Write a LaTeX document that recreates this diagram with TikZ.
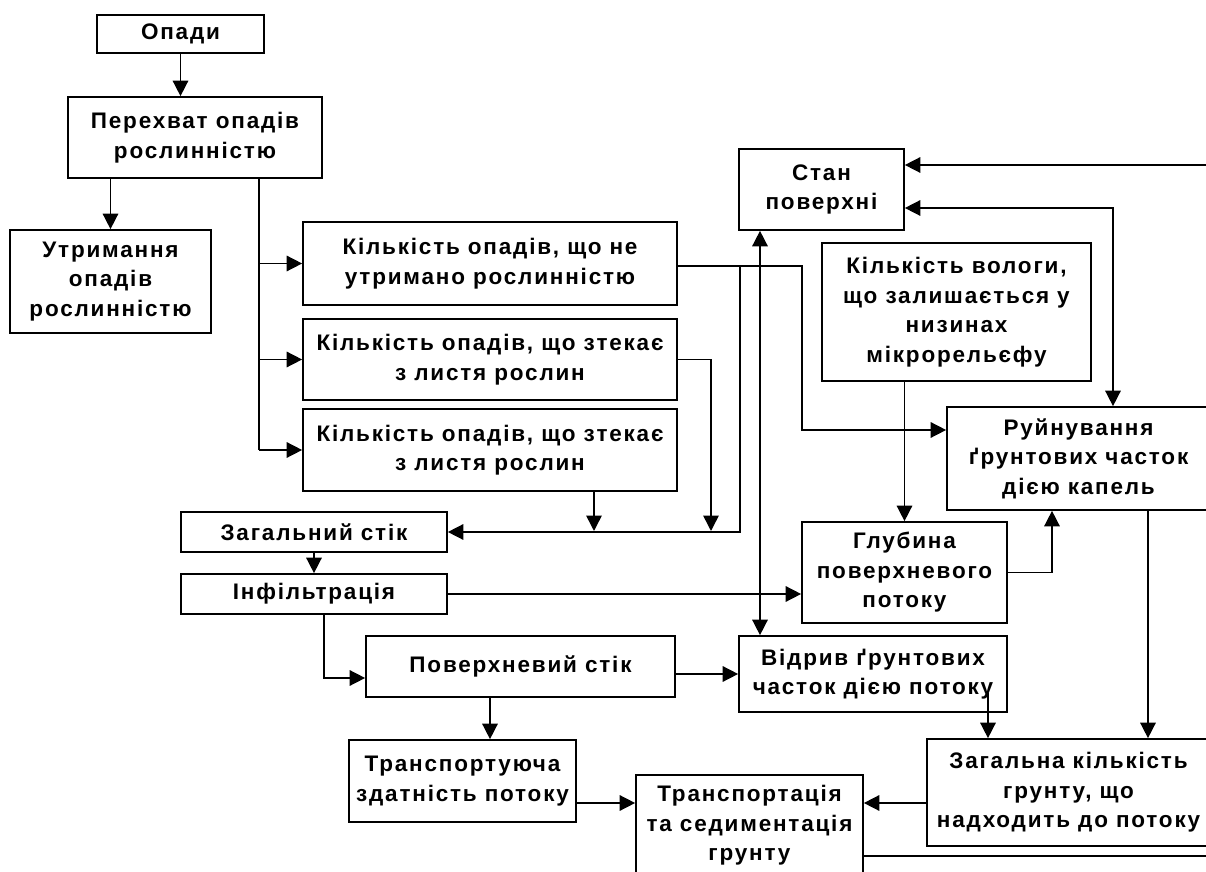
\documentclass[tikz,border=0pt]{standalone}
\usepackage{fontspec}
\setmainfont{Liberation Sans}[LetterSpace=8]
\usetikzlibrary{arrows.meta}

% Parameters
\def\pxl{0.025cm}

\begin{document}
\begin{tikzpicture}[x=\pxl, y=-\pxl,
    blk/.style={draw, line width=1.2pt, inner sep=0pt, align=center,
      font=\bfseries\fontsize{16pt}{21pt}\selectfont},
    ln/.style={line width=1.1pt},
    arr/.style={line width=1.1pt, -{Triangle[length=11pt,width=11pt]}},
    arrb/.style={line width=1.1pt, {Triangle[length=11pt,width=11pt]}-{Triangle[length=11pt,width=11pt]}}]

  % Canvas
  \useasboundingbox (0,0) rectangle (1206,872);
  \clip (0,0) rectangle (1206,872);

  % Interception (left column)
  \node[blk, minimum width=167*\pxl, minimum height=38*\pxl] (opady) at (180.5,34) {Опади};
  \node[blk, minimum width=254*\pxl, minimum height=81*\pxl] (perekh) at (195,137.5) {Перехват опадів\\рослинністю};
  \node[blk, minimum width=201*\pxl, minimum height=103*\pxl] (utrym) at (110.5,281.5) {Утримання\\опадів\\рослинністю};

  % Amounts of rainfall
  \node[blk, minimum width=374*\pxl, minimum height=83*\pxl] (kil1) at (490,263.5) {Кількість опадів, що не\\утримано рослинністю};
  \node[blk, minimum width=374*\pxl, minimum height=81*\pxl] (kil2) at (490,359.5) {Кількість опадів, що зтекає\\з листя рослин};
  \node[blk, minimum width=374*\pxl, minimum height=82*\pxl] (kil3) at (490,450) {Кількість опадів, що зтекає\\з листя рослин};

  % Runoff
  \node[blk, minimum width=266*\pxl, minimum height=40*\pxl] (zstik) at (314,532) {Загальний стік};
  \node[blk, minimum width=266*\pxl, minimum height=40*\pxl] (infil) at (314,594) {Інфільтрація};
  \node[blk, minimum width=309*\pxl, minimum height=61*\pxl] (pover) at (520.5,666.5) {Поверхневий стік};
  \node[blk, minimum width=227*\pxl, minimum height=82*\pxl] (trzd) at (462.5,781) {Транспортуюча\\здатність потоку};
  \node[blk, minimum width=227*\pxl, minimum height=101*\pxl] (trsed) at (749.5,825.5) {Транспортація\\та седиментація\\грунту};

  % Surface and soil
  \node[blk, minimum width=165*\pxl, minimum height=81*\pxl] (stan) at (821.5,189.5) {Стан\\поверхні};
  \node[blk, minimum width=269*\pxl, minimum height=138*\pxl] (volog) at (956.5,312) {Кількість вологи,\\що залишається у\\низинах\\мікрорельєфу};
  \node[blk, minimum width=263*\pxl, minimum height=103*\pxl] (ruin) at (1078.5,458.5) {Руйнування\\ґрунтових часток\\дією капель};
  \node[blk, minimum width=205*\pxl, minimum height=101*\pxl] (glub) at (904.5,572.5) {Глубина\\поверхневого\\потоку};
  \node[blk, minimum width=268*\pxl, minimum height=76*\pxl] (vidryv) at (873,674) {Відрив ґрунтових\\часток дією потоку};
  \node[blk, minimum width=283*\pxl, minimum height=107*\pxl] (zagk) at (1068.5,792.5) {Загальна кількість\\грунту, що\\надходить до потоку};

  % Interception branches
  \draw[arr] (opady.south) -- (opady.south |- perekh.north);
  \draw[arr] (utrym.north |- perekh.south) -- (utrym.north);
  \coordinate (trunk) at (259,178);
  \draw[ln] (trunk) -- (trunk |- kil3.west);
  \draw[arr] (trunk |- kil1.west) -- (kil1.west);
  \draw[arr] (trunk |- kil2.west) -- (kil2.west);
  \draw[arr] (trunk |- kil3.west) -- (kil3.west);

  % Collecting the runoff
  \coordinate (split) at (740,266);
  \coordinate (drip) at (802,430);
  \coordinate (drop2) at (711,531);
  \coordinate (drop3) at (594,531);
  \draw[arr] (kil1.east |- split) -- (drip |- split) -- (drip) -- (drip -| ruin.west);
  \draw[arr] (split) |- (zstik.east);
  \draw[arr] (kil2.east) -| (drop2);
  \draw[arr] (kil3.south -| drop3) -- (drop3);
  \draw[arr] (zstik) -- (infil);
  \draw[arr] (infil.east) -- (infil.east -| glub.west);
  \coordinate (bend) at (324,678);
  \draw[arr] (infil.south -| bend) -- (bend) -- (bend -| pover.west);
  \draw[arr] (pover.east |- vidryv.west) -- (vidryv.west);
  \coordinate (capdn) at (490,740);
  \draw[arr] (pover.south -| capdn) -- (capdn |- trzd.north);
  \coordinate (feed) at (600,803);
  \draw[arr] (trzd.east |- feed) -- (feed -| trsed.west);
  \draw[arr] (zagk.west |- feed) -- (feed -| trsed.east);
  \coordinate (out) at (1230,856);
  \draw[ln] (trsed.east |- out) -- (out);

  % Surface state and detachment
  \coordinate (rim) at (1230,165);
  \draw[arr] (rim) -- (rim -| stan.east);
  \coordinate (loop) at (1113,208);
  \draw[arrb] (loop -| stan.east) -| (loop |- ruin.north);
  \coordinate (link) at (760,0);
  \draw[arrb] (link |- stan.south) -- (link |- vidryv.north);
  \draw[arr] (volog.south -| glub.north) -- (glub.north);
  \coordinate (rise) at (1052,510);
  \draw[arr] (glub.east) -| (rise |- ruin.south);
  \coordinate (fall) at (1148,0);
  \draw[arr] (fall |- ruin.south) -- (fall |- zagk.north);
  \coordinate (tear) at (988,693);
  \draw[arr] (tear) -- (tear |- zagk.north);
\end{tikzpicture}
\end{document}
